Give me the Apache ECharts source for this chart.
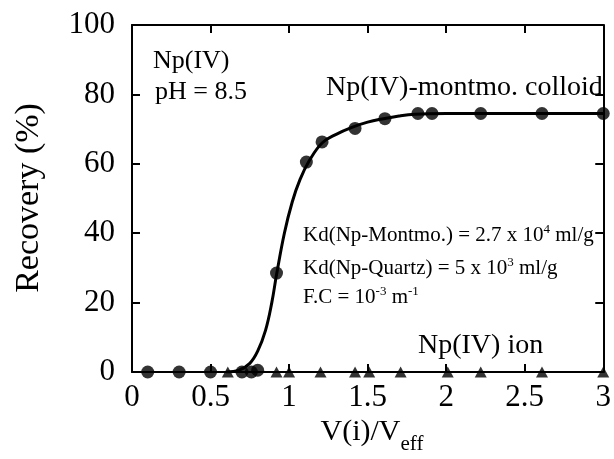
<!DOCTYPE html>
<html>
<head>
<meta charset="utf-8">
<script src="https://cdn.jsdelivr.net/npm/echarts@6/dist/echarts.min.js"></script>
<style>
  html, body { margin: 0; padding: 0; background: #fff; }
  #chart { width: 614px; height: 459px; }
</style>
</head>
<body>
<div id="chart"></div>
<script>
// Np(IV)-montmorillonite colloid: measured recovery (%) vs V(i)/Veff
const colloidX = [0.1, 0.3, 0.5, 0.7, 0.76, 0.8, 0.92, 1.11, 1.21, 1.42, 1.61, 1.82, 1.91, 2.22, 2.61, 3.0];
const colloidY = [0, 0, 0, 0, 0, 0.5, 28.5, 60.5, 66.3, 70.2, 73, 74.5, 74.5, 74.5, 74.5, 74.5];

// Np(IV) ion: measured recovery (%)
const ionX = [0.61, 0.92, 1.0, 1.2, 1.42, 1.51, 1.71, 2.01, 2.22, 2.61, 3.0];
const ionY = [0, 0, 0, 0, 0, 0, 0, 0, 0, 0, 0];

// Calculated breakthrough curve
const fitX = [0.6, 0.68, 0.75, 0.8, 0.85, 0.89, 0.92, 0.97, 1.02, 1.07, 1.13, 1.21, 1.3, 1.4, 1.5, 1.6, 1.7, 1.8, 2.0, 2.5, 3.0];
const fitY = [0, 0.5, 2.5, 6, 12, 20, 28, 40, 49, 55.5, 61, 66, 68.5, 70.5, 72, 73, 73.8, 74.3, 74.5, 74.5, 74.5];

const xTicks = { min: 0, max: 3, interval: 0.5 };
const yTicks = { min: 0, max: 100, interval: 20 };

const serif = '"Liberation Serif", "DejaVu Serif", serif';
const zip = (xs, ys) => xs.map((x, i) => [x, ys[i]]);

const chart = echarts.init(document.getElementById('chart'), null, { renderer: 'canvas' });

const axisCommon = {
  type: 'value',
  axisLine: { show: true, onZero: false, lineStyle: { color: '#000', width: 2 } },
  axisTick: { show: true, inside: true, length: 8, lineStyle: { color: '#000', width: 2 } },
  splitLine: { show: false }
};

const supStyle = { sup: { font: '13px ' + serif, fill: '#000', padding: [0, 0, 10, 0] } };

chart.setOption({
  backgroundColor: '#fff',
  animation: false,
  grid: { left: 132, right: 7, top: 25, bottom: 87 },
  xAxis: [
    Object.assign({}, axisCommon, {
      position: 'bottom', min: xTicks.min, max: xTicks.max, interval: xTicks.interval,
      axisLabel: {
        color: '#000', fontFamily: serif, fontSize: 31, margin: 10,
        formatter: v => String(v)
      }
    }),
    Object.assign({}, axisCommon, {
      position: 'top', min: xTicks.min, max: xTicks.max, interval: xTicks.interval,
      axisLabel: { show: false }
    })
  ],
  yAxis: [
    Object.assign({}, axisCommon, {
      position: 'left', min: yTicks.min, max: yTicks.max, interval: yTicks.interval,
      axisLabel: { color: '#000', fontFamily: serif, fontSize: 31, margin: 17 }
    }),
    Object.assign({}, axisCommon, {
      position: 'right', min: yTicks.min, max: yTicks.max, interval: yTicks.interval,
      axisLabel: { show: false }
    })
  ],
  series: [
    {
      type: 'line', name: 'fit', data: zip(fitX, fitY),
      smooth: 0.4, showSymbol: false, symbol: 'none',
      lineStyle: { color: '#000', width: 3 }, z: 2
    },
    {
      type: 'scatter', name: 'Np(IV) ion', data: zip(ionX, ionY),
      symbol: 'triangle', symbolSize: [12, 11],
      itemStyle: { color: '#000' }, z: 3
    },
    {
      type: 'scatter', name: 'Np(IV)-montmo. colloid', data: zip(colloidX, colloidY),
      symbol: 'circle', symbolSize: 13,
      itemStyle: { color: '#000' }, z: 4
    }
  ],
  graphic: [
    {
      type: 'text', x: 29, y: 198, rotation: Math.PI / 2,
      style: { text: 'Recovery (%)', font: '34px ' + serif, fill: '#000', align: 'center', verticalAlign: 'middle' }
    },
    {
      type: 'text', x: 372, y: 432,
      style: {
        text: 'V(i)/V{sub|eff}', fill: '#000', font: '30px ' + serif, align: 'center', verticalAlign: 'middle',
        rich: { sub: { font: '21px ' + serif, fill: '#000', padding: [24, 0, 0, 0] } }
      }
    },
    { type: 'text', x: 153, y: 61, style: { text: 'Np(IV)', font: '26px ' + serif, fill: '#000', verticalAlign: 'middle' } },
    { type: 'text', x: 155, y: 92, style: { text: 'pH = 8.5', font: '26px ' + serif, fill: '#000', verticalAlign: 'middle' } },
    { type: 'text', x: 326, y: 88, style: { text: 'Np(IV)-montmo. colloid', font: '28px ' + serif, fill: '#000', verticalAlign: 'middle' } },
    { type: 'text', x: 418, y: 346, style: { text: 'Np(IV) ion', font: '28px ' + serif, fill: '#000', verticalAlign: 'middle' } },
    {
      type: 'text', x: 303, y: 235,
      style: { text: 'Kd(Np-Montmo.) = 2.7 x 10{sup|4} ml/g', font: '21px ' + serif, fill: '#000', verticalAlign: 'middle', rich: supStyle }
    },
    {
      type: 'text', x: 303, y: 268,
      style: { text: 'Kd(Np-Quartz) = 5 x 10{sup|3} ml/g', font: '21px ' + serif, fill: '#000', verticalAlign: 'middle', rich: supStyle }
    },
    {
      type: 'text', x: 303, y: 297,
      style: { text: 'F.C = 10{sup|-3} m{sup|-1}', font: '21px ' + serif, fill: '#000', verticalAlign: 'middle', rich: supStyle }
    }
  ]
});
</script>
</body>
</html>
